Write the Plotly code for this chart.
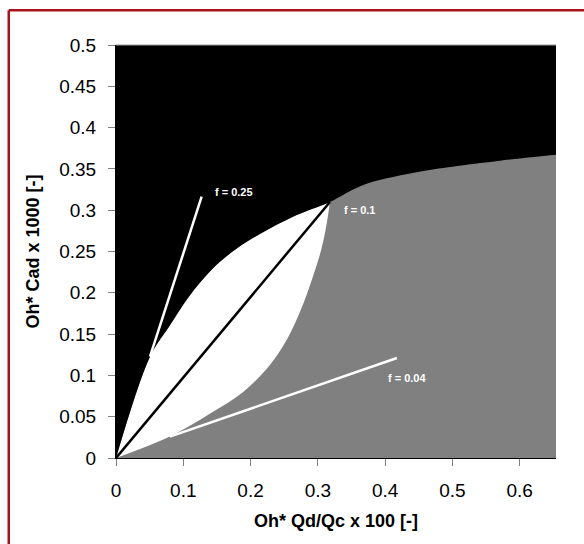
import plotly.graph_objects as go

# ---- data ----
# upper boundary of the white lens (black above it), starting at origin
upper_x = [0.0, 0.0505, 0.078, 0.108, 0.142, 0.180, 0.220, 0.260, 0.290, 0.318]
upper_y = [0.0, 0.1227, 0.158, 0.195, 0.228, 0.254, 0.274, 0.291, 0.301, 0.310]
# lower boundary of the white lens (grey below it)
lower_x = [0.0, 0.080, 0.140, 0.189, 0.229, 0.255, 0.275, 0.292, 0.305, 0.313, 0.318]
lower_y = [0.0, 0.026, 0.054, 0.080, 0.113, 0.145, 0.180, 0.218, 0.252, 0.283, 0.310]
# black/grey boundary to the right of the tip
right_x = [0.318, 0.3675, 0.441, 0.541, 0.571, 0.654]
right_y = [0.310, 0.3305, 0.345, 0.357, 0.360, 0.367]

# reference lines
f010_x = [0.0, 0.318]
f010_y = [0.0, 0.310]
f025_x = [0.0505, 0.1273]
f025_y = [0.1227, 0.3164]
f004_x = [0.080, 0.4175]
f004_y = [0.0258, 0.121]

labels = ["f = 0.25", "f = 0.1", "f = 0.04"]
label_x = [0.144, 0.3354, 0.402]
label_y = [0.322, 0.300, 0.097]

x_ticks = [0, 0.1, 0.2, 0.3, 0.4, 0.5, 0.6]
x_tick_labels = ["0", "0.1", "0.2", "0.3", "0.4", "0.5", "0.6"]
y_ticks = [0, 0.05, 0.1, 0.15, 0.2, 0.25, 0.3, 0.35, 0.4, 0.45, 0.5]
y_tick_labels = ["0", "0.05", "0.1", "0.15", "0.2", "0.25", "0.3", "0.35", "0.4", "0.45", "0.5"]

x_max = 0.654
y_max = 0.5

FONT = "Liberation Sans, Arial, sans-serif"
GREY = "#808080"
HIDDEN = dict(width=0, color="rgba(0,0,0,0)")

fig = go.Figure()

# white lens: fill between lower curve and upper curve
fig.add_trace(go.Scatter(x=lower_x, y=lower_y, mode="lines", line=HIDDEN,
                         line_shape="spline", hoverinfo="skip"))
fig.add_trace(go.Scatter(x=upper_x, y=upper_y, mode="lines", line=HIDDEN,
                         line_shape="spline", fill="tonexty", fillcolor="white",
                         hoverinfo="skip"))

# black region: between top of the axes and the upper/right boundary
fig.add_trace(go.Scatter(x=[0.0, x_max], y=[y_max, y_max], mode="lines",
                         line=HIDDEN, hoverinfo="skip"))
fig.add_trace(go.Scatter(x=upper_x + right_x[1:], y=upper_y + right_y[1:],
                         mode="lines", line=HIDDEN, line_shape="spline",
                         fill="tonexty", fillcolor="black", hoverinfo="skip"))

# lines
fig.add_trace(go.Scatter(x=f010_x, y=f010_y, mode="lines",
                         line=dict(color="black", width=2.5), hoverinfo="skip"))
fig.add_trace(go.Scatter(x=f025_x, y=f025_y, mode="lines",
                         line=dict(color="white", width=2.5), hoverinfo="skip"))
fig.add_trace(go.Scatter(x=f004_x, y=f004_y, mode="lines",
                         line=dict(color="white", width=2.5), hoverinfo="skip"))

for t, lx, ly in zip(labels, label_x, label_y):
    fig.add_annotation(x=lx, y=ly, text="<b>%s</b>" % t, showarrow=False,
                       xanchor="left", yanchor="middle",
                       font=dict(family=FONT, size=11, color="white"))

# red frame (top and left edges visible) and thin grey top border of plot
RED = "#A8141C"
fx = (8.75 - 116) / 440
fy = (458 - 10.2) / 413
fig.add_shape(type="line", xref="paper", yref="paper",
              x0=fx, x1=fx, y0=-0.3, y1=fy, line=dict(color=RED, width=2.5),
              layer="above")
fig.add_shape(type="line", xref="paper", yref="paper",
              x0=fx, x1=1.2, y0=fy, y1=fy, line=dict(color=RED, width=2.5),
              layer="above")
fig.add_shape(type="line", xref="paper", yref="paper", x0=0, x1=1, y0=1, y1=1,
              line=dict(color="#999999", width=1), layer="above")

fig.update_layout(
    width=584, height=544,
    margin=dict(l=116, r=28, t=45, b=86),
    paper_bgcolor="white", plot_bgcolor=GREY,
    showlegend=False,
    font=dict(family=FONT, color="black"),
    xaxis=dict(range=[0, x_max], tickvals=x_ticks, ticktext=x_tick_labels,
               ticks="outside", ticklen=7, tickcolor=GREY, tickwidth=1,
               showline=True, linecolor="black", linewidth=1,
               showgrid=False, zeroline=False,
               tickfont=dict(family=FONT, size=19, color="black"),
               ticklabelstandoff=8,
               title=dict(text="<b>Oh* Qd/Qc x 100 [-]</b>",
                          font=dict(family=FONT, size=18, color="black"),
                          standoff=14)),
    yaxis=dict(range=[0, y_max], tickvals=y_ticks, ticktext=y_tick_labels,
               ticks="outside", ticklen=7, tickcolor=GREY, tickwidth=1,
               showline=True, linecolor="black", linewidth=1,
               showgrid=False, zeroline=False,
               tickfont=dict(family=FONT, size=19, color="black"),
               ticklabelstandoff=8,
               title=dict(text="<b>Oh* Cad x 1000 [-]</b>",
                          font=dict(family=FONT, size=18, color="black"),
                          standoff=14)),
)

fig.write_html("out.html")
